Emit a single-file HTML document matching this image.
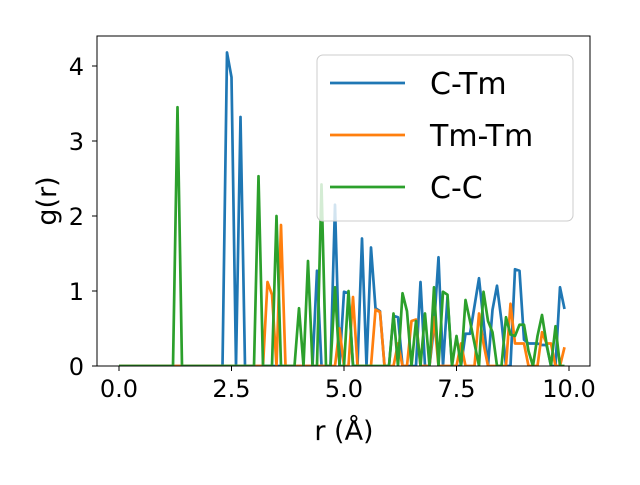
<!DOCTYPE html>
<html><head><meta charset="utf-8"><style>
body{margin:0;background:#fff}
svg text{font-family:"DejaVu Sans","Liberation Sans",sans-serif;fill:#000}
</style></head><body>
<svg id="chart" width="640" height="480" xmlns="http://www.w3.org/2000/svg">
<defs><clipPath id="clip"><rect x="97" y="36" width="493" height="330"/></clipPath></defs>
<g id="axes"></g>
<g id="series" clip-path="url(#clip)"></g>
<rect x="97" y="36" width="493" height="330" fill="none" stroke="#000" stroke-width="1"/>
<g id="legend"></g>
<text x="344" y="440" font-size="27" text-anchor="middle">r (Å)</text>
<text x="56" y="201" font-size="27" text-anchor="middle" transform="rotate(-90 56 201)">g(r)</text>
</svg>
<script>
const xTicks=[0,2.5,5,7.5,10];
const xTickLabels=["0.0","2.5","5.0","7.5","10.0"];
const yTicks=[0,1,2,3,4];
const yTickLabels=["0","1","2","3","4"];
const seriesNames=["C-Tm","Tm-Tm","C-C"];
const seriesColors=["#1f77b4","#ff7f0e","#2ca02c"];
const rValues=[];for(let i=0;i<100;i++)rValues.push(Math.round(i)/10);
const cTm=[0,0,0,0,0,0,0,0,0,0,0,0,0,0,0,0,0,0,0,0,0,0,0,0,4.18,3.85,0,3.32,0,0,0,0,0,0,0,0,0,0,0,0,0,0,0,0,1.27,0,0,0,2.15,0,0.99,0.97,0,0,1.7,0,1.58,0.77,0.73,0,0,0.67,0.65,0,0,0,0,1.12,0,0,0.52,1.45,0,0.92,0,0,0,0.43,0.43,0.8,1.17,0.6,0,0.75,1.07,0.6,0,0,1.29,1.27,0.35,0.3,0.3,0.3,0.28,0.28,0,0,1.05,0.76];
const tmTm=[0,0,0,0,0,0,0,0,0,0,0,0,0,0,0,0,0,0,0,0,0,0,0,0,0,0,0,0,0,0,0,0,0,1.12,0.95,0,1.88,0,0,0,0,0,0,0,0,0,0,0,0,0.5,0,0,0.92,0,0,0,0,0.75,0.72,0,0,0,0.3,0,0,0.6,0.62,0,0,0,0.65,0,0,0,0,0,0.3,0,0,0,0.7,0.3,0,0,0,0,0,0.83,0.3,0.3,0.3,0,0,0,0.45,0.3,0.3,0,0,0.25];
const cC=[0,0,0,0,0,0,0,0,0,0,0,0,0,3.45,0,0,0,0,0,0,0,0,0,0,0,0,0,0,0,0,0,2.53,0,0,0,2.0,0,0,0,0,0.77,0,1.4,0,0,2.42,0,0,1.05,0,0,1.0,0,0,0,0,0,0,0,0,0,0.7,0,0.97,0.73,0,0.6,0,0.7,0,1.05,0,0.99,0.95,0,0.4,0,0.88,0.6,0.3,0,0.99,0.6,0.45,0,0,0.65,0.42,0.4,0.55,0.55,0.2,0,0.4,0.68,0.3,0,0.53,0,0];
const allSeries=[cTm,tmTm,cC];
const xs=v=>119+v*45, ys=v=>366-v*75;
const NS="http://www.w3.org/2000/svg";
const mk=(t,a,p)=>{const e=document.createElementNS(NS,t);for(const k in a)e.setAttribute(k,a[k]);p.appendChild(e);return e;};
const ax=document.getElementById('axes');
xTicks.forEach((v,i)=>{
 const l=mk('line',{x1:xs(v),x2:xs(v),y1:366,y2:371,stroke:'#000'},ax);
 
 
 const t=mk('text',{x:xs(v),y:397,'font-size':24,'text-anchor':'middle'},ax);t.textContent=xTickLabels[i];
 
 
});
yTicks.forEach((v,i)=>{
 const l=mk('line',{x1:92,x2:97,y1:ys(v),y2:ys(v),stroke:'#000'},ax);
 
 
 const t=mk('text',{x:84,y:ys(v)+9,'font-size':24,'text-anchor':'end'},ax);t.textContent=yTickLabels[i];
 
 
});
const sg=document.getElementById('series');
allSeries.forEach((s,k)=>{
 const pts=s.map((v,i)=>xs(rValues[i])+','+ys(v)).join(' ');
 const p=mk('polyline',{points:pts,fill:'none',stroke:seriesColors[k],'stroke-width':2.7,'stroke-linejoin':'round'},sg);
 
 
});
const lg=document.getElementById('legend');
const box=mk('rect',{x:317,y:55,width:256,height:166,rx:6,fill:'#fff','fill-opacity':0.8,stroke:'#ccc'},lg);


seriesNames.forEach((n,k)=>{
 const y=83+k*52;
 const l=mk('line',{x1:330,x2:405,y1:y,y2:y,stroke:seriesColors[k],'stroke-width':2.7},lg);
 
 
 const t=mk('text',{x:430,y:y+11,'font-size':30},lg);t.textContent=n;
 
 
});
</script>
</body></html>
